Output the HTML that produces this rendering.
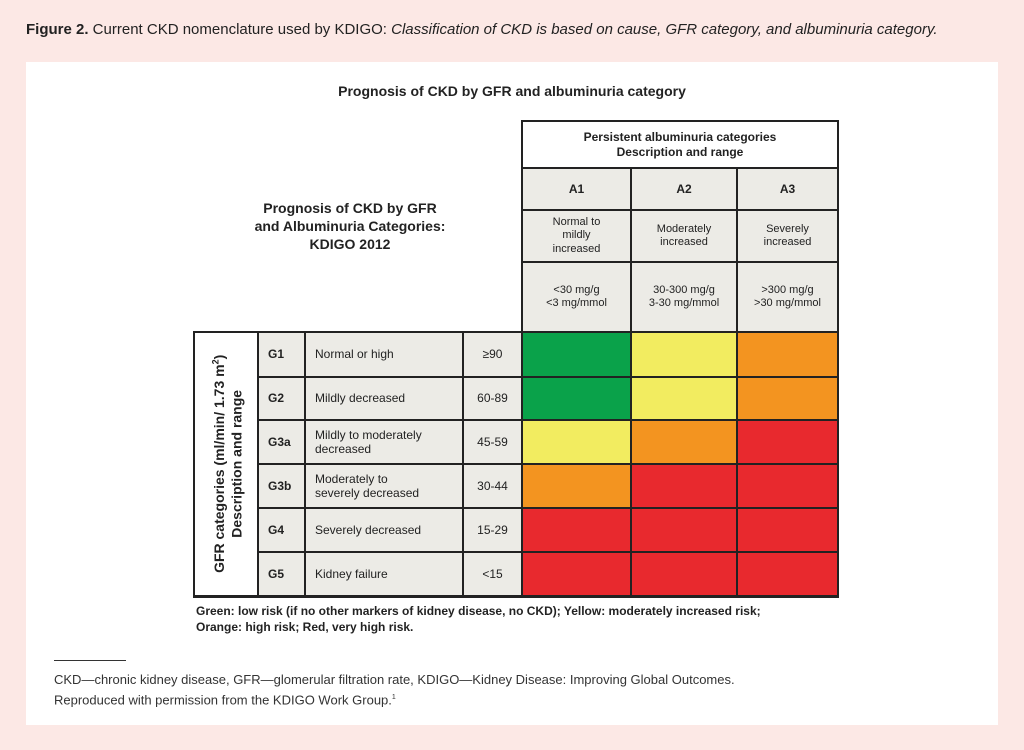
<!DOCTYPE html>
<html><head><meta charset="utf-8"><style>
body{margin:0;width:1024px;height:750px;background:#fce8e5;position:relative;overflow:hidden;font-family:"Liberation Sans",Arial,sans-serif;}
.a{position:absolute;box-sizing:border-box;}
.c{position:absolute;box-sizing:border-box;border:1.5px solid #222;display:flex;align-items:center;justify-content:center;text-align:center;font-size:11px;color:#222;line-height:1.2;background:#ecebe6}
.l{justify-content:flex-start;padding-left:9px;text-align:left;font-size:12px}
</style></head><body>
<div class="a" style="left:26px;top:21px;font-size:15px;color:#222;"><b>Figure 2.</b> Current CKD nomenclature used by KDIGO: <i>Classification of CKD is based on cause, GFR category, and albuminuria category.</i></div>
<div class="a" style="left:26px;top:62px;width:972px;height:663px;background:#fff"></div>
<div class="a" style="left:0;width:1024px;top:83px;text-align:center;font-weight:bold;font-size:14px;color:#222">Prognosis of CKD by GFR and albuminuria category</div>
<div class="a" style="left:200px;width:300px;top:199px;text-align:center;font-weight:bold;font-size:14px;line-height:18px;color:#222">Prognosis of CKD by GFR<br>and Albuminuria Categories:<br>KDIGO 2012</div>
<div class="a" style="left:521px;top:120px;width:318px;height:213px;border:2.5px solid #222"></div>
<div class="c" style="left:522px;top:121px;width:316px;height:47px;background:#fff;font-weight:bold;font-size:12px">Persistent albuminuria categories<br>Description and range</div>
<div class="c" style="left:522px;top:168px;width:109px;height:42px;font-weight:bold;font-size:12px">A1</div>
<div class="c" style="left:631px;top:168px;width:106px;height:42px;font-weight:bold;font-size:12px">A2</div>
<div class="c" style="left:737px;top:168px;width:101px;height:42px;font-weight:bold;font-size:12px">A3</div>
<div class="c" style="left:522px;top:210px;width:109px;height:52px">Normal to<br>mildly<br>increased</div>
<div class="c" style="left:631px;top:210px;width:106px;height:52px">Moderately<br>increased</div>
<div class="c" style="left:737px;top:210px;width:101px;height:52px">Severely<br>increased</div>
<div class="c" style="left:522px;top:262px;width:109px;height:70px">&lt;30 mg/g<br>&lt;3 mg/mmol</div>
<div class="c" style="left:631px;top:262px;width:106px;height:70px">30-300 mg/g<br>3-30 mg/mmol</div>
<div class="c" style="left:737px;top:262px;width:101px;height:70px">&gt;300 mg/g<br>&gt;30 mg/mmol</div>
<div class="a" style="left:193px;top:331px;width:646px;height:267px;border:2.5px solid #222"></div>
<div class="c" style="left:194px;top:332px;width:64px;height:264px;background:#fff"><div style="transform:rotate(-90deg);white-space:nowrap;font-weight:bold;font-size:14px;line-height:17px">GFR categories (ml/min/ 1.73 m<sup style="font-size:9px">2</sup>)<br>Description and range</div></div>
<div id="rows"></div>
<div class="a" style="left:196px;top:603px;font-size:12px;font-weight:bold;color:#222;line-height:16px">Green: low risk (if no other markers of kidney disease, no CKD); Yellow: moderately increased risk;<br>Orange: high risk; Red, very high risk.</div>
<div class="a" style="left:54px;top:660px;width:72px;border-top:1px solid #333"></div>
<div class="a" style="left:54px;top:671px;font-size:13px;color:#333;line-height:18px">CKD—chronic kidney disease, GFR—glomerular filtration rate, KDIGO—Kidney Disease: Improving Global Outcomes.<br>Reproduced with permission from the KDIGO Work Group.<sup style="font-size:7px">1</sup></div>
<script>
var ys=[332,377,420,464,508,552,596];
var g=["G1","G2","G3a","G3b","G4","G5"];
var d=["Normal or high","Mildly decreased","Mildly to moderately<br>decreased","Moderately to<br>severely decreased","Severely decreased","Kidney failure"];
var r=["≥90","60-89","45-59","30-44","15-29","&lt;15"];
var G="#0aa24a",Y="#f2ec60",O="#f39420",R="#e8292e";
var col=[[G,Y,O],[G,Y,O],[Y,O,R],[O,R,R],[R,R,R],[R,R,R]];
var xs=[522,631,737,838];
var h="";
for(var i=0;i<6;i++){var t=ys[i],hh=ys[i+1]-t;
h+='<div class="c l" style="left:258px;top:'+t+'px;width:47px;height:'+hh+'px;font-weight:bold">'+g[i]+'</div>';
h+='<div class="c l" style="left:305px;top:'+t+'px;width:158px;height:'+hh+'px">'+d[i]+'</div>';
h+='<div class="c" style="left:463px;top:'+t+'px;width:59px;height:'+hh+'px;font-size:12px">'+r[i]+'</div>';
for(var j=0;j<3;j++)h+='<div class="c" style="left:'+xs[j]+'px;top:'+t+'px;width:'+(xs[j+1]-xs[j])+'px;height:'+hh+'px;background:'+col[i][j]+'"></div>';}
document.getElementById("rows").innerHTML=h;
</script>
</body></html>
